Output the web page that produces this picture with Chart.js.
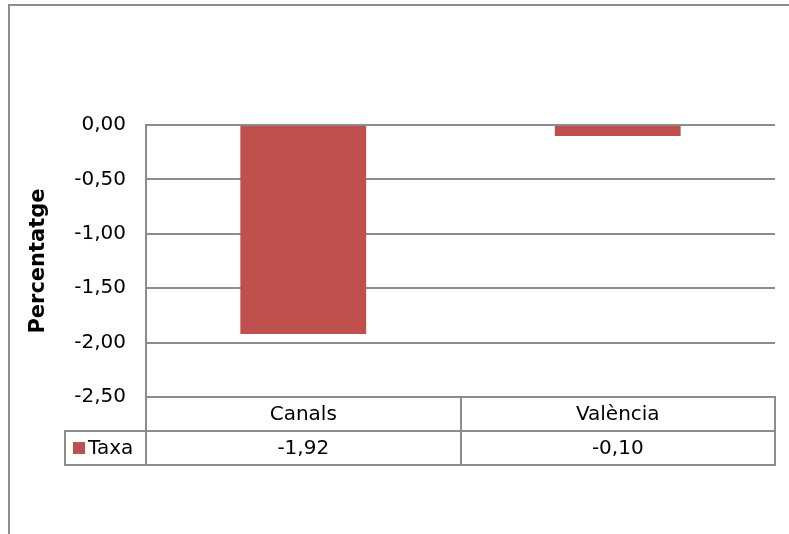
<!DOCTYPE html>
<html>
<head>
<meta charset="utf-8">
<script src="https://cdn.jsdelivr.net/npm/chart.js@4"></script>
<style>
  html, body { margin: 0; padding: 0; background: #fff; }
  #wrap { width: 789px; height: 534px; }
</style>
</head>
<body>
<div id="wrap"><canvas id="barChart" width="789" height="534"></canvas></div>
<script>
let categories = ['Canals', 'València'];
let seriesName = 'Taxa';
let taxa = [-1.92, -0.10];
let yTicks = [0, -0.5, -1, -1.5, -2, -2.5];

const FONT = 'DejaVu Sans, Verdana, sans-serif';
const LINE = '#8c8c8c';
const RED = '#C0504D';

function fmt(v) {
  return v.toFixed(2).replace('.', ',');
}

// draws the outer frame and the Excel style data table under the plot
let dataTable = {
  id: 'dataTable',
  afterDraw(chart) {
    let ctx = chart.ctx;
    let area = chart.chartArea;
    let x = chart.scales.x;
    let n = categories.length;
    let colW = (area.right - area.left) / n;
    let rowH = 34;
    let r0 = Math.round(area.bottom), r1 = r0 + rowH, r2 = r1 + rowH;
    let left = Math.round(area.left), right = Math.round(area.right);
    let keyLeft = 65;

    ctx.save();
    ctx.strokeStyle = LINE;
    ctx.lineWidth = 2;

    // frame (only left and top edges are inside the picture)
    ctx.beginPath();
    ctx.moveTo(9, 534); ctx.lineTo(9, 5);
    ctx.moveTo(8, 5); ctx.lineTo(789, 5);
    ctx.stroke();

    ctx.beginPath();
    // horizontal rows
    ctx.moveTo(left, r0); ctx.lineTo(right, r0);
    ctx.moveTo(keyLeft, r1); ctx.lineTo(right, r1);
    ctx.moveTo(keyLeft, r2); ctx.lineTo(right, r2);
    // verticals
    ctx.moveTo(keyLeft, r1 - 1); ctx.lineTo(keyLeft, r2 + 1);
    ctx.moveTo(left, area.top - 1); ctx.lineTo(left, r2 + 1);
    for (let i = 1; i <= n; i++) {
      let cx = Math.round(area.left + colW * i);
      ctx.moveTo(cx, r0 - 1); ctx.lineTo(cx, r2 + 1);
    }
    ctx.stroke();

    // texts
    ctx.fillStyle = '#000';
    ctx.font = '20px ' + FONT;
    ctx.textAlign = 'center';
    ctx.textBaseline = 'middle';
    categories.forEach((c, i) => {
      let cx = x.getPixelForValue(i);
      ctx.fillText(c, cx, (r0 + r1) / 2 + 1);
      ctx.fillText(fmt(taxa[i]), cx, (r1 + r2) / 2 + 1);
    });

    // legend key
    ctx.fillStyle = RED;
    ctx.fillRect(73, (r1 + r2) / 2 - 6, 12, 12);
    ctx.fillStyle = '#000';
    ctx.textAlign = 'left';
    ctx.fillText(seriesName, 88, (r1 + r2) / 2 + 1);
    ctx.restore();
  }
};

let ctx = document.getElementById('barChart').getContext('2d');

let chart = new Chart(ctx, {
  type: 'bar',
  data: {
    labels: categories,
    datasets: [{
      label: seriesName,
      data: taxa,
      backgroundColor: RED,
      borderWidth: 0,
      barPercentage: 0.4,
      categoryPercentage: 1
    }]
  },
  options: {
    responsive: false,
    animation: false,
    layout: {
      padding: { left: 0, top: 125, right: 14, bottom: 137 }
    },
    plugins: {
      legend: { display: false },
      tooltip: { enabled: false }
    },
    scales: {
      x: {
        display: false
      },
      y: {
        min: -2.5,
        max: 0,
        afterFit(scale) { scale.width = 146; },
        afterBuildTicks(scale) {
          scale.ticks = yTicks.map(v => ({ value: v }));
        },
        border: { display: true, color: LINE, width: 2 },
        grid: { color: LINE, drawTicks: false, lineWidth: 2 },
        ticks: {
          padding: 20,
          color: '#000',
          font: { family: FONT, size: 20 },
          callback: v => fmt(v)
        },
        title: {
          display: true,
          text: 'Percentatge',
          color: '#000',
          padding: { top: 26, bottom: 0 },
          font: { family: FONT, size: 21, weight: 'bold' }
        }
      }
    }
  },
  plugins: [dataTable]
});
</script>
</body>
</html>
